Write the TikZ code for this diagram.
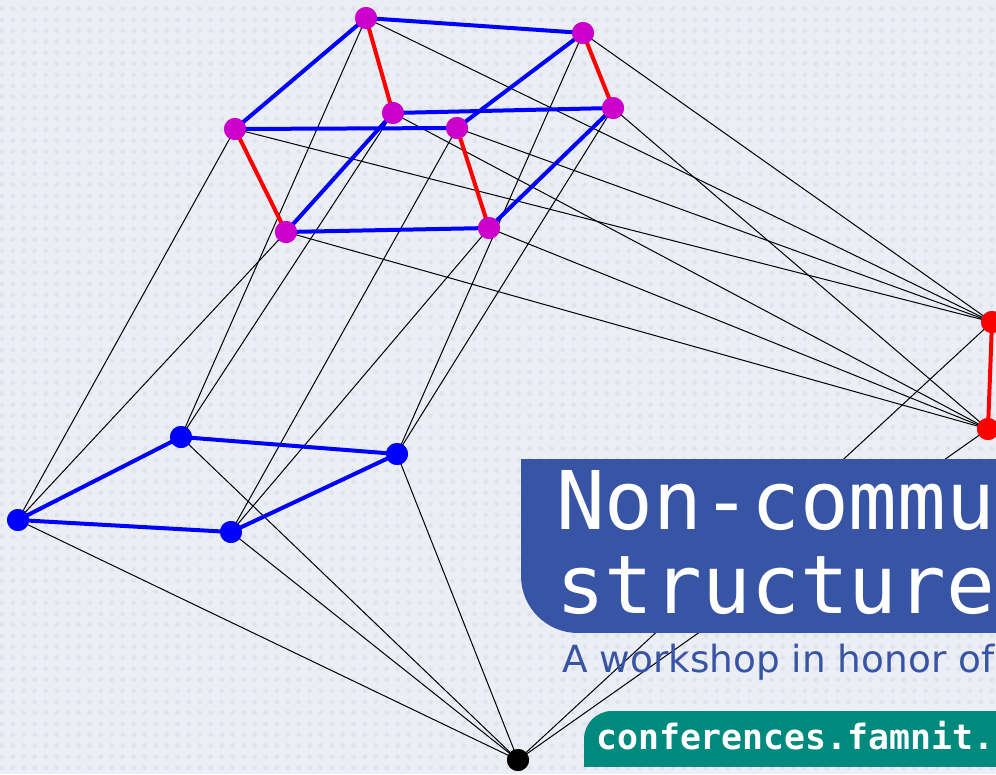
\documentclass[tikz,border=0pt]{standalone}
\usepackage{fontspec}
\newfontfamily\ttlfnt{DejaVu Sans Mono}
\newfontfamily\subfnt{DejaVu Sans}
\newfontfamily\webfnt{DejaVu Sans Mono}
\definecolor{bgcol}{HTML}{ECEEF6}
\definecolor{dotcol}{HTML}{E0E3ED}
\definecolor{titlecol}{HTML}{3854A5}
\definecolor{tealcol}{HTML}{008A7E}
\definecolor{magcol}{HTML}{CC00CC}
\begin{document}
\begin{tikzpicture}[x=1pt,y=-1pt,
  vtx/.style={circle,inner sep=0pt,minimum size=22pt},
  magv/.style={vtx,fill=magcol},
  bluev/.style={vtx,fill=blue},
  redv/.style={vtx,fill=red},
  blackv/.style={vtx,fill=black},
  thinedge/.style={black,line width=1pt},
  bedge/.style={blue,line width=4pt},
  redge/.style={red,line width=4pt}]
\useasboundingbox (0,0) rectangle (996,774);
\begin{scope}
\clip (0,0) rectangle (996,774);
\fill[bgcol] (0,0) rectangle (996,774);
\foreach \yy in {-2.3,8.7,...,780}
  \draw[dotcol,line width=4.6pt,line cap=round,dash pattern=on 0pt off 11pt] (1.7,\yy) -- (1000,\yy);
% vertices
\node[magv] (m1) at (366,18) {};
\node[magv] (m2) at (583,33) {};
\node[magv] (m3) at (235,129) {};
\node[magv] (m4) at (393,113) {};
\node[magv] (m5) at (457,128) {};
\node[magv] (m6) at (613,108) {};
\node[magv] (m7) at (286,232) {};
\node[magv] (m8) at (489,228) {};
\node[bluev] (b1) at (18,520) {};
\node[bluev] (b2) at (181,437) {};
\node[bluev] (b3) at (397,454) {};
\node[bluev] (b4) at (231,532) {};
\node[redv] (r1) at (992,322) {};
\node[redv] (r2) at (988,429) {};
\node[blackv] (k) at (518,760) {};
% thin edges
\foreach \a/\b in {b1/m3,b1/m7,b2/m1,b2/m4,b3/m2,b3/m6,b4/m5,b4/m8,
  r1/m1,r1/m2,r1/m3,r1/m5,r2/m4,r2/m6,r2/m7,r2/m8,
  k/b1,k/b2,k/b3,k/b4,k/r1,k/r2}
  \draw[thinedge] (\a.center) -- (\b.center);
% coloured edges
\foreach \a/\b in {m1/m2,m1/m3,m3/m5,m4/m6,m2/m5,m4/m7,m7/m8,m6/m8,b1/b2,b2/b3,b3/b4,b4/b1}
  \draw[bedge] (\a.center) -- (\b.center);
\foreach \a/\b in {m1/m4,m2/m6,m3/m7,m5/m8,r1/r2}
  \draw[redge] (\a.center) -- (\b.center);
% redraw vertices on top
\foreach \n/\s/\p in {m1/magv/{366,18},m2/magv/{583,33},m3/magv/{235,129},m4/magv/{393,113},
  m5/magv/{457,128},m6/magv/{613,108},m7/magv/{286,232},m8/magv/{489,228},
  b1/bluev/{18,520},b2/bluev/{181,437},b3/bluev/{397,454},b4/bluev/{231,532},
  r1/redv/{992,322},r2/redv/{988,429},k/blackv/{518,760}}
  \node[\s] at (\p) {};
% title box
\fill[titlecol] (521,459) rectangle (1000,576);
\fill[titlecol] (578,459) rectangle (1000,633);
\fill[titlecol] (578,576) circle[radius=57];
\node[anchor=base west,inner sep=0pt,text=white] (t1) at (556,529)
  {\ttlfnt\fontsize{81}{84}\selectfont Non-commu};
\node[anchor=base west,inner sep=0pt,text=white] (t2) at (556,613)
  {\ttlfnt\fontsize{81}{84}\selectfont structure};
\node[anchor=base west,inner sep=0pt,text=titlecol] (sub) at (562,672)
  {\subfnt\fontsize{37.4}{40}\selectfont A workshop in honor of};
% url box
\fill[tealcol] (584,739) rectangle (1000,767);
\fill[tealcol] (612,711) rectangle (1000,767);
\fill[tealcol] (612,739) circle[radius=28];
\node[anchor=base west,inner sep=0pt,text=white] (url) at (596,749)
  {\webfnt\bfseries\fontsize{34.8}{38}\selectfont conferences.famnit.};
\end{scope}
\end{tikzpicture}
\end{document}
